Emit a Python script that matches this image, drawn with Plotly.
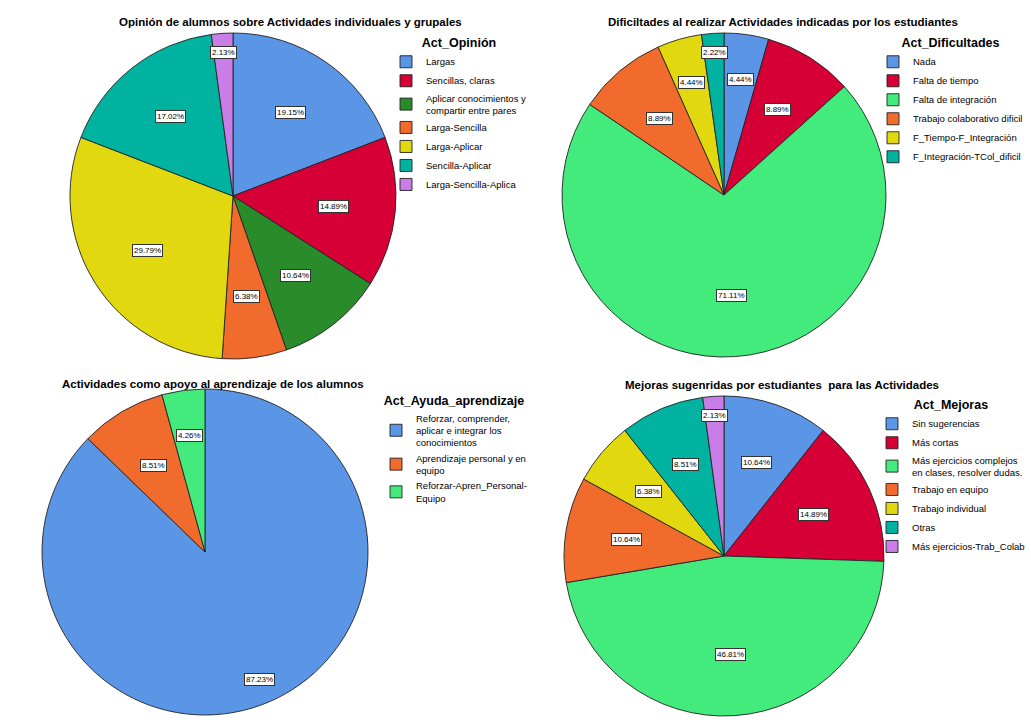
import math
import plotly.graph_objects as go

W, H = 1031, 720

# ---------------- data ----------------
op_title = "Opinión de alumnos sobre Actividades individuales y grupales"
op_legend = "Act_Opinión"
op_labels = ["Largas", "Sencillas, claras",
             "Aplicar conocimientos y<br>compartir entre pares",
             "Larga-Sencilla", "Larga-Aplicar", "Sencilla-Aplicar",
             "Larga-Sencilla-Aplica"]
op_counts = [9, 7, 5, 3, 14, 8, 1]

dif_title = "Dificiltades al realizar Actividades indicadas por los estudiantes"
dif_legend = "Act_Dificultades"
dif_labels = ["Nada", "Falta de tiempo", "Falta de integración",
              "Trabajo colaborativo dificil", "F_Tiempo-F_Integración",
              "F_Integración-TCol_dificil"]
dif_counts = [2, 4, 32, 4, 2, 1]

ayu_title = "Actividades como apoyo al aprendizaje de los alumnos"
ayu_legend = "Act_Ayuda_aprendizaje"
ayu_labels = ["Reforzar, comprender,<br>aplicar e integrar los<br>conocimientos",
              "Aprendizaje personal y en<br>equipo",
              "Reforzar-Apren_Personal-<br>Equipo"]
ayu_counts = [41, 4, 2]

mej_title = "Mejoras sugenridas por estudiantes  para las Actividades"
mej_legend = "Act_Mejoras"
mej_labels = ["Sin sugerencias", "Más cortas",
              "Más ejercicios complejos<br>en clases, resolver dudas.",
              "Trabajo en equipo", "Trabajo individual", "Otras",
              "Más ejercicios-Trab_Colab"]
mej_counts = [5, 7, 22, 5, 3, 4, 1]

# ---------------- styles ----------------
BLUE, RED, DGREEN, ORANGE = "#5A95E6", "#D60036", "#2A8B2A", "#F06B2C"
YELLOW, TEAL, VIOLET, LGREEN = "#E2D810", "#00B3A0", "#C97DE6", "#42EB7C"

op_colors = [BLUE, RED, DGREEN, ORANGE, YELLOW, TEAL, VIOLET]
dif_colors = [BLUE, RED, LGREEN, ORANGE, YELLOW, TEAL]
ayu_colors = [BLUE, ORANGE, LGREEN]
mej_colors = [BLUE, RED, LGREEN, ORANGE, YELLOW, TEAL, VIOLET]

FONT = "Liberation Sans, Arial, sans-serif"

# panel geometry in pixels: pie center, radius, title pos, legend pos
panels = [
    dict(labels=op_labels, counts=op_counts, colors=op_colors, title=op_title,
         legtitle=op_legend, cx=233, cy=196, r=163, tx=290, ty=22, lx=386, ly=31),
    dict(labels=dif_labels, counts=dif_counts, colors=dif_colors, title=dif_title,
         legtitle=dif_legend, cx=724, cy=195, r=162, tx=783, ty=22, lx=873, ly=31),
    dict(labels=ayu_labels, counts=ayu_counts, colors=ayu_colors, title=ayu_title,
         legtitle=ayu_legend, cx=205, cy=552, r=163, tx=213, ty=384, lx=376, ly=389),
    dict(labels=mej_labels, counts=mej_counts, colors=mej_colors, title=mej_title,
         legtitle=mej_legend, cx=724, cy=556, r=160, tx=782, ty=385, lx=872, ly=393),
]

fig = go.Figure()
annotations = []
layout_legends = {}

for i, p in enumerate(panels):
    legname = "legend" if i == 0 else f"legend{i+1}"
    cx, cy, r = p["cx"], p["cy"], p["r"]
    dom_x = [(cx - r) / W, (cx + r) / W]
    dom_y = [1 - (cy + r) / H, 1 - (cy - r) / H]
    fig.add_trace(go.Pie(
        labels=p["labels"], values=p["counts"], sort=False,
        direction="clockwise", rotation=0, textinfo="none",
        marker=dict(colors=p["colors"], line=dict(color="#222222", width=0.9)),
        domain=dict(x=dom_x, y=dom_y), legend=legname, showlegend=True,
    ))
    total = sum(p["counts"])
    cum = 0
    for v in p["counts"]:
        pct = 100 * v / total
        mid = (cum + v / 2) / total * 2 * math.pi
        cum += v
        if pct >= 80:
            frac = 0.85
        elif pct >= 5:
            frac = 0.62
        elif pct >= 4:
            frac = 0.72
        else:
            frac = 0.88
        px = cx + frac * r * math.sin(mid)
        py = cy - frac * r * math.cos(mid)
        annotations.append(dict(
            x=px / W, y=1 - py / H, xref="paper", yref="paper",
            xanchor="center", yanchor="middle",
            text=f"{pct:.2f}%", showarrow=False,
            font=dict(size=8, color="black", family=FONT),
            bgcolor="white", bordercolor="#333333", borderwidth=1, borderpad=1,
        ))
    annotations.append(dict(
        x=p["tx"] / W, y=1 - p["ty"] / H, xref="paper", yref="paper",
        xanchor="center", yanchor="middle",
        text=f"<b>{p['title']}</b>", showarrow=False,
        font=dict(size=11.5, color="black", family=FONT),
    ))
    layout_legends[legname] = dict(
        x=p["lx"] / W, y=1 - p["ly"] / H, xanchor="left", yanchor="top",
        title=dict(text=f"<b>{p['legtitle']}</b>", side="top center",
                   font=dict(size=12.5, family=FONT, color="black")),
        font=dict(size=9.5, family=FONT, color="black"),
        bgcolor="rgba(0,0,0,0)", tracegroupgap=0, itemclick=False,
    )

fig.update_layout(
    width=W, height=H,
    margin=dict(l=0, r=0, t=0, b=0, autoexpand=False),
    paper_bgcolor="white", plot_bgcolor="white",
    annotations=annotations, font=dict(family=FONT),
    **layout_legends,
)

fig.write_html("out.html",
               config={"displayModeBar": False},
               post_script="document.body.style.margin='0px';"
                           "document.body.style.overflow='hidden';")
